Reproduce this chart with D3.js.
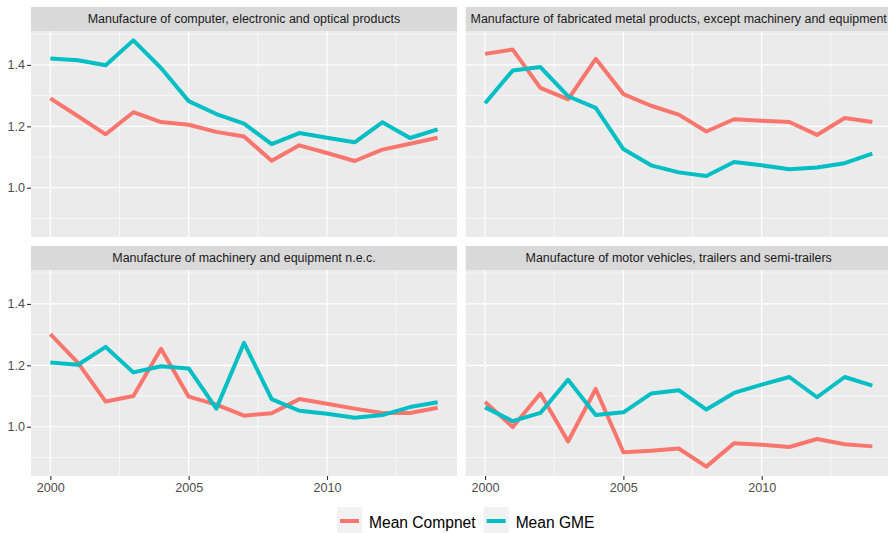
<!DOCTYPE html>
<html>
<head>
<meta charset="utf-8">
<script src="https://cdn.jsdelivr.net/npm/d3@7/dist/d3.min.js"></script>
<style>
  html, body { margin: 0; padding: 0; background: #ffffff; }
  svg { display: block; font-family: "Liberation Sans", Arial, Helvetica, sans-serif; }
</style>
</head>
<body>
<svg id="chart" width="888" height="533"></svg>
<script>
// Years on the x axis
const years = [2000, 2001, 2002, 2003, 2004, 2005, 2006, 2007, 2008, 2009, 2010, 2011, 2012, 2013, 2014];

// Facet titles, in panel order (row by row)
const sectors = [
  "Manufacture of computer, electronic and optical products",
  "Manufacture of fabricated metal products, except machinery and equipment",
  "Manufacture of machinery and equipment n.e.c.",
  "Manufacture of motor vehicles, trailers and semi-trailers"
];

// Series names for the legend
const seriesNames = ["Mean Compnet", "Mean GME"];

// Mean Compnet per sector
const compnetComputer  = [1.291, 1.233, 1.174, 1.246, 1.214, 1.205, 1.182, 1.167, 1.088, 1.138, 1.113, 1.087, 1.124, 1.143, 1.163];
const compnetMetal     = [1.436, 1.450, 1.325, 1.288, 1.420, 1.305, 1.267, 1.238, 1.183, 1.223, 1.218, 1.214, 1.172, 1.227, 1.214];
const compnetMachinery = [1.302, 1.208, 1.082, 1.100, 1.254, 1.098, 1.072, 1.036, 1.044, 1.090, 1.075, 1.059, 1.045, 1.045, 1.062];
const compnetMotor     = [1.081, 0.999, 1.108, 0.952, 1.123, 0.917, 0.922, 0.929, 0.870, 0.946, 0.941, 0.934, 0.960, 0.943, 0.936];

// Mean GME per sector
const gmeComputer  = [1.421, 1.415, 1.399, 1.480, 1.390, 1.282, 1.240, 1.209, 1.142, 1.178, 1.163, 1.148, 1.213, 1.162, 1.190];
const gmeMetal     = [1.275, 1.382, 1.393, 1.298, 1.260, 1.126, 1.073, 1.050, 1.038, 1.084, 1.073, 1.060, 1.066, 1.080, 1.111];
const gmeMachinery = [1.209, 1.202, 1.260, 1.177, 1.197, 1.190, 1.059, 1.273, 1.090, 1.052, 1.042, 1.029, 1.038, 1.064, 1.080];
const gmeMotor     = [1.063, 1.018, 1.045, 1.153, 1.038, 1.047, 1.108, 1.119, 1.056, 1.110, 1.137, 1.162, 1.096, 1.162, 1.134];

// Axis ticks
const xTicks = [2000, 2005, 2010];
const xMinor = [2002.5, 2007.5, 2012.5];
const yTicks = [1.0, 1.2, 1.4];
const yMinor = [0.9, 1.1, 1.3, 1.5];

const colors = ["#F8766D", "#00BFC4"];

const panels = [
  { title: sectors[0], series: [compnetComputer,  gmeComputer]  },
  { title: sectors[1], series: [compnetMetal,     gmeMetal]     },
  { title: sectors[2], series: [compnetMachinery, gmeMachinery] },
  { title: sectors[3], series: [compnetMotor,     gmeMotor]     }
];

// Facet grid geometry
const colX = [31, 465.7];
const panelW = 426;
const rowY = [31, 270];
const panelH = 206;
const stripH = 24;

// Shared scales: ggplot-style 5% expansion of the data range
const allVals = panels.flatMap(p => p.series.flat());
const [vMin, vMax] = d3.extent(allVals);
const vPad = (vMax - vMin) * 0.05;
const xPad = (d3.max(years) - d3.min(years)) * 0.05;

const svg = d3.select("#chart");

panels.forEach((p, i) => {
  const col = i % 2, row = Math.floor(i / 2);
  const x0 = colX[col], y0 = rowY[row];
  const x = d3.scaleLinear().domain([d3.min(years) - xPad, d3.max(years) + xPad]).range([x0, x0 + panelW]);
  const y = d3.scaleLinear().domain([vMin - vPad, vMax + vPad]).range([y0 + panelH, y0]);

  const g = svg.append("g");

  // strip
  g.append("rect").attr("x", x0).attr("y", y0 - stripH).attr("width", panelW).attr("height", stripH)
    .attr("fill", "#d9d9d9");
  g.append("text").attr("x", x0 + panelW / 2).attr("y", y0 - stripH / 2)
    .attr("text-anchor", "middle").attr("dominant-baseline", "central")
    .attr("font-size", 12.45).attr("fill", "#1a1a1a").text(p.title);

  // panel background
  g.append("rect").attr("x", x0).attr("y", y0).attr("width", panelW).attr("height", panelH)
    .attr("fill", "#ebebeb");

  // minor grid
  g.selectAll(".ymin").data(yMinor.filter(v => v >= y.domain()[0] && v <= y.domain()[1])).join("line")
    .attr("x1", x0).attr("x2", x0 + panelW).attr("y1", d => y(d)).attr("y2", d => y(d))
    .attr("stroke", "#ffffff").attr("stroke-width", 0.6);
  g.selectAll(".xmin").data(xMinor).join("line")
    .attr("y1", y0).attr("y2", y0 + panelH).attr("x1", d => x(d)).attr("x2", d => x(d))
    .attr("stroke", "#ffffff").attr("stroke-width", 0.6);

  // major grid
  g.selectAll(".ymaj").data(yTicks).join("line")
    .attr("x1", x0).attr("x2", x0 + panelW).attr("y1", d => y(d)).attr("y2", d => y(d))
    .attr("stroke", "#ffffff").attr("stroke-width", 1.2);
  g.selectAll(".xmaj").data(xTicks).join("line")
    .attr("y1", y0).attr("y2", y0 + panelH).attr("x1", d => x(d)).attr("x2", d => x(d))
    .attr("stroke", "#ffffff").attr("stroke-width", 1.2);

  // lines
  const line = d3.line().x((d, k) => x(years[k])).y(d => y(d));
  p.series.forEach((s, k) => {
    g.append("path").datum(s).attr("d", line).attr("fill", "none")
      .attr("stroke", colors[k]).attr("stroke-width", 4)
      .attr("stroke-linejoin", "round").attr("stroke-linecap", "butt");
  });

  // y axis on the left column
  if (col === 0) {
    const ay = d3.axisLeft(y).tickValues(yTicks).tickFormat(d3.format(".1f")).tickSize(4).tickPadding(2);
    const a = svg.append("g").attr("transform", `translate(${x0},0)`).call(ay);
    a.select(".domain").remove();
    a.selectAll(".tick line").attr("stroke", "#333333").attr("stroke-width", 1.1);
    a.selectAll(".tick text").attr("fill", "#4d4d4d").attr("font-size", 12.6)
      .attr("font-family", "Liberation Sans, Arial, sans-serif");
  }
  // x axis on the bottom row
  if (row === 1) {
    const ax = d3.axisBottom(x).tickValues(xTicks).tickFormat(d3.format("d")).tickSize(4).tickPadding(3);
    const a = svg.append("g").attr("transform", `translate(0,${y0 + panelH})`).call(ax);
    a.select(".domain").remove();
    a.selectAll(".tick line").attr("stroke", "#333333").attr("stroke-width", 1.1);
    a.selectAll(".tick text").attr("fill", "#4d4d4d").attr("font-size", 12.6)
      .attr("font-family", "Liberation Sans, Arial, sans-serif");
  }
});

// Legend along the bottom
const legend = svg.append("g");
let lx = 337;
const keyW = 25, keyY = 507;
seriesNames.forEach((name, k) => {
  legend.append("rect").attr("x", lx).attr("y", keyY).attr("width", keyW).attr("height", 27).attr("fill", "#f2f2f2");
  legend.append("line").attr("x1", lx + 3).attr("x2", lx + keyW - 3)
    .attr("y1", keyY + 14).attr("y2", keyY + 14)
    .attr("stroke", colors[k]).attr("stroke-width", 4);
  const t = legend.append("text").attr("x", lx + keyW + 7).attr("y", 522.7)
    .attr("dominant-baseline", "central").attr("font-size", 15.6).attr("fill", "#000000").text(name);
  lx += keyW + 7 + t.node().getComputedTextLength() + 8;
});
</script>
</body>
</html>
